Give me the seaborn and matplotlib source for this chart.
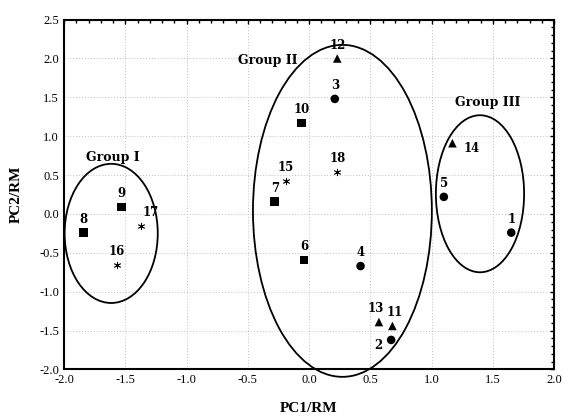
import numpy as np
import pandas as pd
import seaborn as sns
import matplotlib.pyplot as plt
from matplotlib.patches import Ellipse
from matplotlib.ticker import MultipleLocator

# sample scores on the first two principal components
sample_id = ["1", "2", "3", "4", "5", "6", "7", "8", "9", "10",
             "11", "12", "13", "14", "15", "16", "17", "18"]
pc1 = [1.65, 0.67, 0.21, 0.42, 1.10, -0.04, -0.28, -1.84, -1.53, -0.06,
       0.68, 0.23, 0.57, 1.17, -0.19, -1.57, -1.37, 0.23]
pc2 = [-0.24, -1.62, 1.48, -0.67, 0.22, -0.59, 0.16, -0.24, 0.09, 1.17,
       -1.44, 2.00, -1.39, 0.91, 0.43, -0.65, -0.15, 0.54]
kind = ["circle", "circle", "circle", "circle", "circle", "square", "square", "square", "square", "square",
        "triangle", "triangle", "triangle", "triangle", "star", "star", "star", "star"]

# label offsets in points (dx, dy)
label_offset = {"2": (-9, -4), "14": (14, -4), "17": (7, 5), "13": (-2, 5), "11": (2, 5)}

group_names = ["Group I", "Group II", "Group III"]
group_center = [(-1.615, -0.25), (0.272, 0.04), (1.395, 0.26)]
group_size = [(0.76, 1.79), (1.46, 4.27), (0.72, 2.02)]
group_text = [(-1.60, 0.73), (-0.335, 1.97), (1.46, 1.44)]

df = pd.DataFrame({"id": sample_id, "PC1": pc1, "PC2": pc2, "kind": kind})

sns.set_style("white")
plt.rcParams["font.family"] = ["Liberation Serif", "DejaVu Serif"]
plt.rcParams["text.color"] = "black"
plt.rcParams["axes.labelcolor"] = "black"
plt.rcParams["xtick.color"] = "black"
plt.rcParams["ytick.color"] = "black"

fig = plt.figure(figsize=(5.64, 4.17), dpi=100)
ax = fig.add_axes([0.1135, 0.114, 0.869, 0.839])

filled = df[df["kind"] != "star"]
sns.scatterplot(data=filled, x="PC1", y="PC2", style="kind",
                markers={"circle": "o", "square": "s", "triangle": "^"},
                color="black", s=38, edgecolor="black", linewidth=0, legend=False, ax=ax)
stars = df[df["kind"] == "star"]
sns.scatterplot(data=stars, x="PC1", y="PC2", marker=(6, 2, 0), color="black",
                s=22, linewidth=0.6, legend=False, ax=ax)

for _, r in df.iterrows():
    dx, dy = label_offset.get(r["id"], (0, 5))
    ax.annotate(r["id"], (r["PC1"], r["PC2"]), xytext=(dx, dy), textcoords="offset points",
                ha="center", va="bottom" if dy > 0 else "center",
                fontsize=8.5, fontweight="bold", family=["DejaVu Serif"])

for name, c, sz, t in zip(group_names, group_center, group_size, group_text):
    ax.add_patch(Ellipse(c, sz[0], sz[1], fill=False, edgecolor="black", linewidth=1.3,
                         clip_on=False))
    ax.text(t[0], t[1], name, ha="center", va="center", fontsize=9, fontweight="bold",
            family=["DejaVu Serif"])

ax.set_xlim(-2.0, 2.0)
ax.set_ylim(-2.0, 2.5)
ax.xaxis.set_major_locator(MultipleLocator(0.5))
ax.yaxis.set_major_locator(MultipleLocator(0.5))
ax.xaxis.set_minor_locator(MultipleLocator(0.1))
ax.yaxis.set_minor_locator(MultipleLocator(0.1))
ax.xaxis.set_major_formatter(plt.FormatStrFormatter("%.1f"))
ax.yaxis.set_major_formatter(plt.FormatStrFormatter("%.1f"))
ax.tick_params(which="both", direction="in", top=True, right=True, labelsize=9, width=1)
ax.tick_params(which="major", length=3)
ax.tick_params(which="minor", length=2)
ax.grid(True, which="major", linestyle=(0, (1, 2)), color="#c0c0c0", linewidth=0.7)
for s in ax.spines.values():
    s.set_linewidth(1.5)
    s.set_color("black")

ax.set_xlabel("PC1/RM", fontsize=11, fontweight="bold", labelpad=11)
ax.set_ylabel("PC2/RM", fontsize=11, fontweight="bold", labelpad=12)

fig.savefig("out.png", dpi=100)
